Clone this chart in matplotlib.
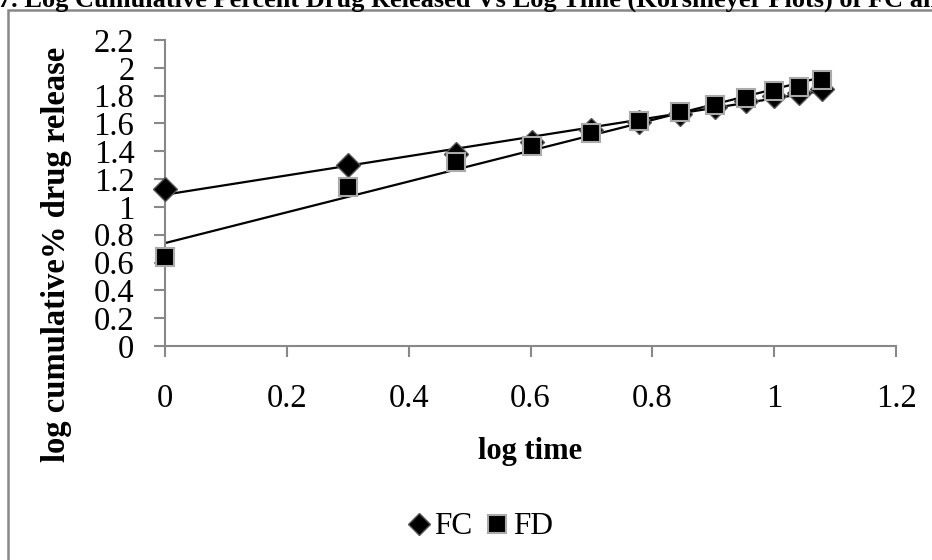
import numpy as np
import matplotlib.pyplot as plt
from matplotlib.patches import Rectangle

# log time (hours 1..12)
log_time = [0, 0.301, 0.477, 0.602, 0.699, 0.778, 0.845, 0.903, 0.954, 1.0, 1.041, 1.079]
fc = [1.13, 1.30, 1.38, 1.47, 1.55, 1.61, 1.67, 1.72, 1.76, 1.80, 1.82, 1.85]
fd = [0.64, 1.14, 1.32, 1.44, 1.53, 1.62, 1.685, 1.73, 1.78, 1.83, 1.86, 1.91]
xticks = [0, 0.2, 0.4, 0.6, 0.8, 1, 1.2]
yticks = [0, 0.2, 0.4, 0.6, 0.8, 1, 1.2, 1.4, 1.6, 1.8, 2, 2.2]

plt.rcParams['font.family'] = ['Liberation Serif', 'DejaVu Serif']

fig = plt.figure(figsize=(9.32, 5.6), dpi=100)
W, H = 932, 560
ax = fig.add_axes([165 / W, 1 - 346 / H, (896 - 165) / W, (346 - 40) / H])

# chart border
fig.patches.append(Rectangle((8 / W, -0.1), 1.2, 1 - 10 / H + 0.1, transform=fig.transFigure,
                             fill=False, edgecolor='#888888', linewidth=1.8))

x = np.array(log_time)
for y in (fc, fd):
    k, b = np.polyfit(x, y, 1)
    ax.plot([0, x.max()], [b, b + k * x.max()], color='black', linewidth=1.6, zorder=2)

ax.plot(log_time, fc, linestyle='none', marker='D', markersize=12, markerfacecolor='black',
        markeredgecolor='#555555', markeredgewidth=1, label='FC', zorder=3, clip_on=False)
ax.plot(log_time, fd, linestyle='none', marker='s', markersize=13, markerfacecolor='black',
        markeredgecolor='#aaaaaa', markeredgewidth=1.5, label='FD', zorder=4, clip_on=False)

ax.set_xlim(0, 1.2)
ax.set_ylim(0, 2.2)
ax.set_xticks(xticks)
ax.set_xticklabels([f'{t:g}' for t in xticks])
ax.set_yticks(yticks)
ax.set_yticklabels([f'{t:g}' for t in yticks])
for s in ['top', 'right']:
    ax.spines[s].set_visible(False)
for s in ['left', 'bottom']:
    ax.spines[s].set_color('#888888')
    ax.spines[s].set_linewidth(1.5)
ax.tick_params(axis='both', direction='out', length=8, width=1.5, color='#888888',
               labelsize=23.5)
ax.tick_params(axis='y', pad=14)
ax.tick_params(axis='x', pad=19)
ax.set_xlabel('log time', fontsize=22, fontweight='bold')
ax.xaxis.set_label_coords(0.499, (346 - 437) / 306)
ax.set_ylabel('log cumulative% drug release', fontsize=23.5, fontweight='bold')
ax.yaxis.set_label_coords((72 - 165) / 731, (346 - 254) / 306)

fig.legend(loc='center', bbox_to_anchor=(478 / W, 1 - 527 / H), ncol=2, frameon=False,
           fontsize=22.5, handletextpad=0.0, columnspacing=0.3, handlelength=1.0, markerscale=0.95)

fig.text(-0.002, 1 - 7 / H, '7. Log Cumulative Percent Drug Released Vs Log Time (Korsmeyer Plots) of FC and FD',
         fontsize=19, fontweight='bold', ha='left', va='baseline')

fig.savefig('out.png', dpi=100)
